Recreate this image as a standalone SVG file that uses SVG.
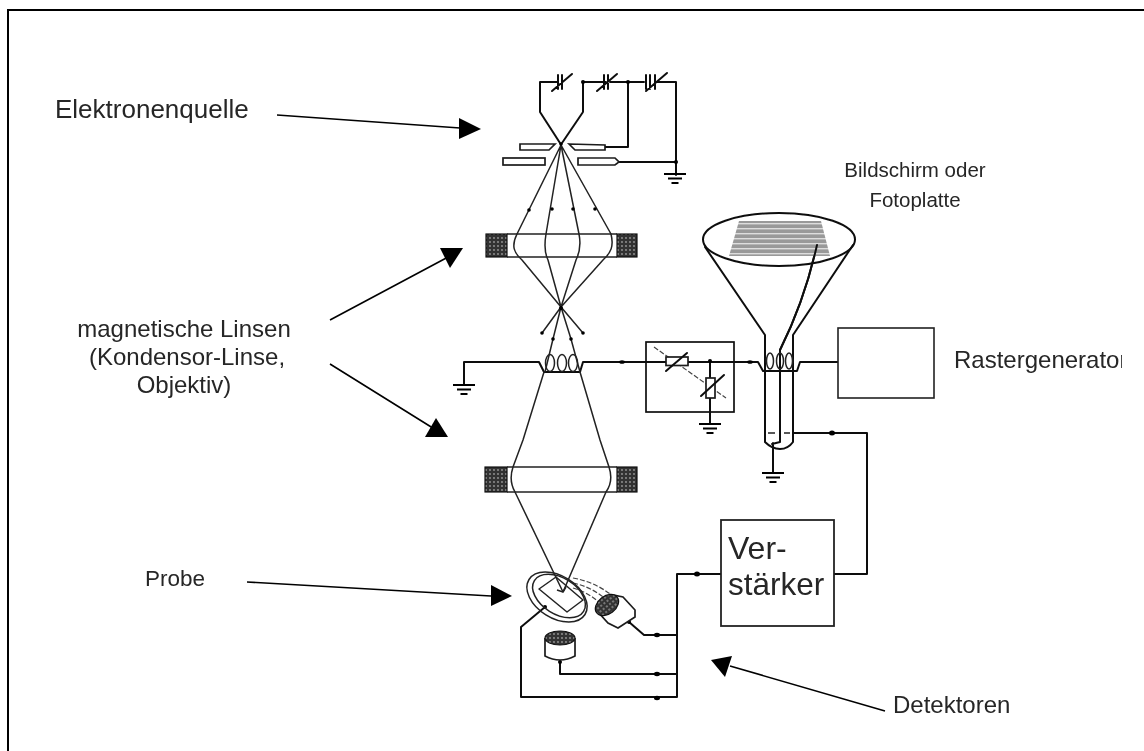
<svg xmlns="http://www.w3.org/2000/svg" xmlns:xlink="http://www.w3.org/1999/xlink" width="1144" height="751" viewBox="0 0 1144 751">
<defs>
<style>
.w{fill:none;stroke:#111;stroke-width:2;stroke-linejoin:round;stroke-linecap:round}
.t{fill:none;stroke:#222;stroke-width:1.5;stroke-linejoin:round}
.b{fill:#fff;stroke:#1c1c1c;stroke-width:1.7}
.c{fill:url(#hatch);stroke:#111;stroke-width:1.2}
.d{fill:#000}
.h{fill:#000;stroke:none}
.ld{fill:none;stroke:#000;stroke-width:1.6}
.l{font-family:"Liberation Sans",Arial,sans-serif;font-size:24px;fill:#262626}
.m{text-anchor:middle}
.dash{fill:none;stroke:#444;stroke-width:1.2;stroke-dasharray:5 2}
.g{fill:none;stroke:#000;stroke-width:2}
</style>
<pattern id="hatch" width="4" height="4" patternUnits="userSpaceOnUse"><rect width="4" height="4" fill="#333"/><circle cx="2" cy="2" r="0.9" fill="#999"/></pattern>
<pattern id="lines" width="4" height="5" patternUnits="userSpaceOnUse"><rect width="4" height="5" fill="#999"/><rect y="3" width="4" height="1.4" fill="#ddd"/></pattern>
<filter id="soft" x="-5%" y="-5%" width="110%" height="110%"><feGaussianBlur stdDeviation="0.45"/></filter>
<clipPath id="rasterclip"><rect x="940" y="340" width="182" height="50"/></clipPath>
<g id="gnd"><path class="g" d="M-11 0H11M-7 4.500H7M-3.500 9H3.500"/></g>
</defs>
<rect width="1144" height="751" fill="#fff"/>
<path d="M8 751V10H1144" fill="none" stroke="#000" stroke-width="2"/>
<g filter="url(#soft)">
<g id="connectors">
<path class="w" d="M558 82H540V112L560 143M583 112V82H602M610 82H644M655 82H676V175M583 82V112L562 143M606 82H583M628 82V147H605M619 162H676"/>
<path class="w" d="M464 385V362H539L544 372H580L583 362H758L763 371H797L800 362H838"/>
<path class="w" d="M710 361V424"/>
<path class="w" d="M794 433H867V574H834M721 574H677V697H521V627L545 607M677 635H644L629 622M560 660V674H677"/>
<path class="w" d="M773 443V473M780 350V442L772 444"/>
<path class="w" d="M817 245C808 285 795 320 780 350"/>
<path class="t" d="M561 145L517 234C511 246 514 253 522 260L561 307L603 260C611 253 614 246 611 234L561 145M561 145L546 234C544 246 545 254 548 260L561 307L576 260C580 252 581 244 579 234L561 145"/>
<path class="t" d="M561 307L542 333M561 307L553 339L545 372M561 307L571 339L580 372M561 307L583 333"/>
<path class="t" d="M544 372L523 440L513 467C510 476 511 485 515 492L563 592L606 492C611 485 612 476 609 467L600 440L580 372"/>
<path class="dash" d="M573 578C590 581 603 588 614 597M573 583C587 586 598 592 608 601M573 588C584 591 594 597 602 605M654 347L726 398"/>
<path class="ld" d="M277 115L460 128M330 320L450 256M330 364L436 430M247 582L491 596M885 711L730 666"/>
</g>
<g id="dots">
<circle class="d" cx="583" cy="82" r="2"/><circle class="d" cx="628" cy="82" r="2"/><circle class="d" cx="676" cy="162" r="2"/>
<circle class="d" cx="710" cy="361" r="2"/><ellipse class="d" cx="622" cy="362" rx="3" ry="1.800"/><ellipse class="d" cx="750" cy="362" rx="3" ry="1.800"/>
<ellipse class="d" cx="832" cy="433" rx="3" ry="2.500"/><ellipse class="d" cx="697" cy="574" rx="3" ry="2.500"/>
<ellipse class="d" cx="657" cy="635" rx="3" ry="2.200"/><ellipse class="d" cx="657" cy="674" rx="3" ry="2.200"/><ellipse class="d" cx="657" cy="698" rx="3" ry="2.200"/>
<circle class="d" cx="529" cy="210" r="1.800"/><circle class="d" cx="552" cy="209" r="1.800"/><circle class="d" cx="573" cy="209" r="1.800"/><circle class="d" cx="595" cy="209" r="1.800"/>
<circle class="d" cx="561" cy="144" r="1.800"/><circle class="d" cx="561" cy="308" r="2"/>
<circle class="d" cx="542" cy="333" r="1.800"/><circle class="d" cx="583" cy="333" r="1.800"/><circle class="d" cx="553" cy="339" r="1.800"/><circle class="d" cx="571" cy="339" r="1.800"/>
<circle class="d" cx="545" cy="607" r="2"/><circle class="d" cx="560" cy="662" r="2"/><circle class="d" cx="629" cy="622" r="2"/><circle class="d" cx="817" cy="245" r="2.500"/>
</g>
<g id="capacitors">
<path class="w" d="M558 75V89M562 75V89M552 91L572 74M604 75V89M608 75V89M597 91L617 74M646 75V89M650 75V89M655 75V89M646 91L667 73"/>
</g>
<g id="plates">
<polygon class="b" points="520,144 555,144 549,150 520,150"/>
<polygon class="b" points="569,144 605,145 605,150 575,150"/>
<rect class="b" x="503" y="158" width="42" height="7"/>
<polygon class="b" points="578,158 615,158 619,162 615,165 578,165"/>
</g>
<g id="lens1">
<path class="t" d="M507 234H617M507 257H617"/>
<rect class="c" x="486" y="234" width="21" height="23"/>
<rect class="c" x="617" y="234" width="20" height="23"/>
</g>
<g id="coil1">
<ellipse class="t" cx="550" cy="363" rx="4.500" ry="8.500"/><ellipse class="t" cx="562" cy="363" rx="4.500" ry="8.500"/><ellipse class="t" cx="573" cy="363" rx="4.500" ry="8.500"/>
</g>
<g id="gnd-left"><use xlink:href="#gnd" href="#gnd" x="464" y="385"/></g>
<g id="gnd-top"><use xlink:href="#gnd" href="#gnd" x="675" y="174"/></g>
<g id="gnd-mid"><use xlink:href="#gnd" href="#gnd" x="710" y="424"/></g>
<g id="gnd-tube"><use xlink:href="#gnd" href="#gnd" x="773" y="473"/></g>
<g id="scan-control">
<rect x="646" y="342" width="88" height="70" fill="none" stroke="#111" stroke-width="1.700"/>
<rect class="b" x="666" y="357" width="22" height="8.500"/>
<rect class="b" x="706" y="378" width="9" height="20"/>
<path class="w" d="M666 371L687 353M701 396L724 375"/>
</g>
<g id="lens2">
<path class="t" d="M507 467H617M507 492H617"/>
<rect class="c" x="485" y="467" width="22" height="25"/>
<rect class="c" x="617" y="467" width="20" height="25"/>
</g>
<g id="sample">
<ellipse class="t" cx="557" cy="597" rx="33" ry="21" transform="rotate(32 557 597)"/>
<ellipse class="t" cx="559" cy="596" rx="29" ry="18" transform="rotate(32 559 596)"/>
<polygon class="t" points="539,589 556,577 583,600 567,612"/>
<path class="t" d="M563 592L557 590M563 592L566 587"/>
</g>
<g id="detector1">
<path class="b" d="M598 612L613 595L623 597L635 610V617L618 628L608 623Z"/>
<ellipse class="c" cx="607" cy="605" rx="13" ry="9" transform="rotate(-38 607 605)"/>
</g>
<g id="detector2">
<path class="b" d="M545 638V656Q560 664 575 656V638"/>
<ellipse class="c" cx="560" cy="638" rx="15" ry="7"/>
</g>
<g id="crt">
<polygon points="739,221 821,221 830,256 729,256" fill="url(#lines)"/>
<ellipse class="w" cx="779" cy="239.500" rx="76" ry="26.500"/>
<path class="w" d="M705 247L765 335V442Q772 449 780 449Q788 449 793 442V335L853 245"/>
<ellipse class="t" cx="770" cy="361" rx="3.500" ry="8"/><ellipse class="t" cx="780" cy="361" rx="3.500" ry="8"/><ellipse class="t" cx="789" cy="361" rx="3.500" ry="8"/>
<path class="t" d="M768 433H775M784 433H790"/>
<path class="w" d="M817 245C808 285 795 320 780 350"/>
</g>
<g id="rastergenerator"><rect x="838" y="328" width="96" height="70" fill="#fff" stroke="#222" stroke-width="1.600"/></g>
<g id="verstaerker">
<rect x="721" y="520" width="113" height="106" fill="#fff" stroke="#222" stroke-width="1.800"/>
<text class="l" x="728" y="559" style="font-size:32px">Ver-</text>
<text class="l" x="728" y="595" style="font-size:31.500px">stärker</text>
</g>
<g id="arrowheads">
<polygon class="h" points="459,118 459,139 481,129"/>
<polygon class="h" points="440,248 463,248 450,268"/>
<polygon class="h" points="425,437 448,437 436,418"/>
<polygon class="h" points="491,585 491,606 512,596"/>
<polygon class="h" points="711,660 732,656 725,677"/>
</g>
<g id="labels">
<text class="l" x="55" y="118" style="font-size:26px">Elektronenquelle</text>
<text class="l m" x="184" y="337">magnetische Linsen</text>
<text class="l m" x="187" y="365">(Kondensor-Linse,</text>
<text class="l m" x="184" y="393">Objektiv)</text>
<text class="l" x="145" y="586" style="font-size:22.500px">Probe</text>
<text class="l" x="893" y="713">Detektoren</text>
<text class="l m" x="915" y="177" style="font-size:20.500px">Bildschirm oder</text>
<text class="l m" x="915" y="207" style="font-size:20.500px">Fotoplatte</text>
<text class="l" x="954" y="368" clip-path="url(#rasterclip)">Rastergenerator</text>
</g>
</g>
</svg>
